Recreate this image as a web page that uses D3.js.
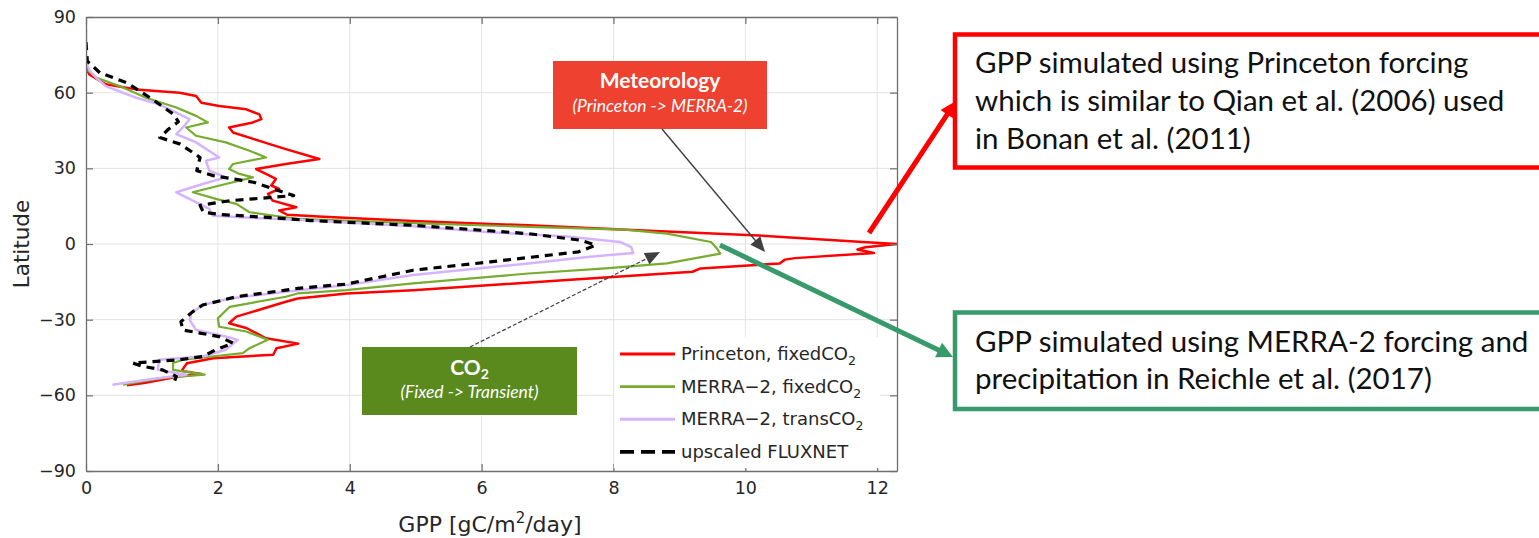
<!DOCTYPE html>
<html>
<head>
<meta charset="utf-8">
<script src="https://cdn.jsdelivr.net/npm/d3@7"></script>
<style>
  body { margin: 0; background: #fff; }
  svg { display: block; }
</style>
</head>
<body>
<div id="chart"></div>
<script>
// zonal mean GPP by latitude, [latitude, GPP gC/m2/day]
const princeton = [
  [70, 0.0], [67.2, 0.05], [63.3, 0.3], [61.3, 0.76], [60, 1.42], [58.7, 1.67], [56, 1.75],
  [54.7, 2.02], [53.4, 2.43], [51.4, 2.63], [49.5, 2.66], [48.2, 2.53], [46.2, 2.17],
  [44.2, 2.23], [40.9, 2.63], [37.6, 3.03], [33.7, 3.54], [31.7, 3.03], [29.7, 2.58],
  [27.8, 2.73], [25.8, 2.88], [23.2, 2.81], [21.8, 2.93], [19.9, 2.76], [17.2, 2.83],
  [14.6, 3.19], [13.3, 2.93], [11.6, 3.05], [10.8, 3.6], [9.1, 4.96], [7.4, 6.71],
  [5.4, 8.46], [3.4, 10.2], [0.8, 11.78], [0, 12.3], [-1.3, 11.82], [-2.2, 11.7],
  [-3.6, 11.95], [-5.6, 10.75], [-6.2, 10.6], [-7.7, 10.52], [-9.7, 9.32], [-11, 9.2],
  [-14.3, 7.29], [-18.3, 4.96], [-19.6, 3.95], [-21.6, 3.21], [-22.9, 3.03], [-28.8, 2.28],
  [-31.4, 2.17], [-33.4, 2.44], [-37.4, 2.73], [-39.5, 3.22], [-41.3, 2.89], [-43.9, 2.84],
  [-45.3, 1.93], [-47.3, 1.53], [-50.3, 1.45], [-51.5, 1.75], [-52.5, 1.4], [-55, 0.9], [-56, 0.62]
];
const merraFixed = [
  [69, 0.02], [66, 0.15], [62.6, 0.51], [58, 0.91], [54.1, 1.37], [50.8, 1.67], [48.2, 1.85],
  [46.2, 1.52], [42.9, 1.67], [40.3, 2.12], [37, 2.48], [34.3, 2.73], [31.7, 2.23],
  [29.7, 2.17], [27.8, 2.33], [26.4, 2.53], [23.8, 2.12], [20.5, 1.62], [17.9, 1.97],
  [15.9, 2.28], [12.6, 2.48], [11.3, 2.83], [10, 3.21], [8.3, 4.96], [6.8, 6.71],
  [5.7, 8.17], [4.1, 8.81], [0.8, 9.48], [-1.8, 9.57], [-3.8, 9.62], [-7.7, 8.81],
  [-9.7, 7.88], [-11.7, 6.71], [-15.6, 4.96], [-18.3, 3.95], [-19.6, 3.21], [-20.9, 3.03],
  [-24.9, 2.18], [-29.5, 2.0], [-32.8, 2.02], [-34.7, 2.43], [-38, 2.76], [-41.3, 2.48],
  [-43.3, 2.38], [-45.9, 1.47], [-47.2, 1.32], [-49.9, 1.32], [-51.8, 1.8], [-53, 1.2], [-55.8, 0.56]
];
const merraTrans = [
  [85, 0.0], [72, 0.0], [69, 0.05], [66, 0.15], [62.6, 0.3], [58, 0.76], [55.4, 1.11],
  [49.5, 1.57], [46.8, 1.49], [43.6, 1.37], [40.3, 1.67], [34.3, 2.02], [33, 1.82],
  [29.1, 1.87], [26.4, 2.12], [23.8, 1.77], [20.5, 1.37], [17.2, 1.62], [13.9, 1.87],
  [11.3, 1.92], [10.5, 2.4], [9.6, 3.21], [7, 4.96], [4.7, 6.13], [3, 7.29], [0.8, 8.1],
  [-1.2, 8.27], [-3.6, 8.3], [-5.1, 7.64], [-7.7, 6.71], [-12.3, 4.96], [-16.3, 3.95],
  [-18.9, 3.03], [-21.6, 2.18], [-24.2, 1.77], [-27.5, 1.59], [-30.5, 1.58], [-34.1, 1.67],
  [-36.7, 2.12], [-38, 2.3], [-41.9, 2.12], [-44.6, 1.77], [-45.9, 1.11], [-49.9, 1.09],
  [-51.8, 1.52], [-53.5, 1.0], [-55.8, 0.4]
];
const fluxnet = [
  [80, 0.0], [72.5, 0.02], [67.9, 0.21], [63.9, 0.62], [58, 0.97], [51.4, 1.33], [48.5, 1.4],
  [45.5, 1.25], [42.2, 1.12], [39.6, 1.43], [34.3, 1.73], [29.1, 1.68], [27.1, 1.93],
  [24.5, 2.54], [20.5, 2.99], [19.2, 3.15], [17.9, 2.54], [17.2, 2.19], [15.3, 1.73],
  [12.6, 1.78], [11.7, 2.04], [10.3, 2.9], [9.3, 3.4], [7.4, 4.96], [4.1, 6.71], [1.5, 7.5],
  [-0.5, 7.73], [-3.1, 7.47], [-7.1, 6.13], [-10.4, 4.96], [-15.9, 3.95], [-17.6, 3.21],
  [-18.3, 3.03], [-20.9, 2.28], [-24.2, 1.77], [-26.8, 1.62], [-30.8, 1.44], [-34.1, 1.47],
  [-36.7, 2.02], [-39.3, 2.23], [-41.9, 1.97], [-44.6, 1.77], [-45.9, 1.42], [-47.2, 0.71],
  [-48.5, 0.86], [-49.9, 1.16], [-52.5, 1.37], [-54.5, 1.34]
];

const xTicks = [0, 2, 4, 6, 8, 10, 12];
const yTicks = [-90, -60, -30, 0, 30, 60, 90];
const legendNames = ["Princeton, fixedCO", "MERRA\u22122, fixedCO", "MERRA\u22122, transCO", "upscaled FLUXNET"];

// plot box
const margin = {top: 17, left: 86};
const width = 811, height = 454;
const ink = "#262626";
const axisFont = "'DejaVu Sans', sans-serif";
const noteFont = "Lato, 'Open Sans', sans-serif";

const series = [
  {data: princeton,  color: "#ff0000", w: 2.5, dash: null},
  {data: merraFixed, color: "#77ac30", w: 2.2, dash: null},
  {data: merraTrans, color: "#d6b4fc", w: 2.5, dash: null},
  {data: fluxnet,    color: "#000000", w: 3.2, dash: "8,6"}
];

const svg = d3.select("#chart").append("svg")
  .attr("width", 1539)
  .attr("height", 538)
  .style("background", "#fff");

const g = svg.append("g")
  .attr("transform", "translate(" + margin.left + "," + margin.top + ")");

const x = d3.scaleLinear().domain([0, 12.3]).range([0, width]);
const y = d3.scaleLinear().domain([-90, 90]).range([height, 0]);

// grid
g.append("g").selectAll("line").data(xTicks.slice(1)).enter().append("line")
  .attr("x1", d => x(d)).attr("x2", d => x(d))
  .attr("y1", 0).attr("y2", height)
  .attr("stroke", "#e3e3e3").attr("stroke-width", 1);
g.append("g").selectAll("line").data(yTicks.slice(1, -1)).enter().append("line")
  .attr("y1", d => y(d)).attr("y2", d => y(d))
  .attr("x1", 0).attr("x2", width)
  .attr("stroke", "#e3e3e3").attr("stroke-width", 1);

// curves
g.append("clipPath").attr("id", "plotclip")
  .append("rect").attr("width", width).attr("height", height);

const line = d3.line()
  .x(d => x(d[1]))
  .y(d => y(d[0]));

g.append("g").attr("clip-path", "url(#plotclip)")
  .selectAll("path").data(series).enter().append("path")
  .attr("d", d => line(d.data))
  .attr("fill", "none")
  .attr("stroke", d => d.color)
  .attr("stroke-width", d => d.w)
  .attr("stroke-dasharray", d => d.dash)
  .attr("stroke-linejoin", "round");

// axes, ticks inward like matlab
function styleAxis(sel) {
  sel.select(".domain").attr("stroke", "#6e6e6e").attr("stroke-width", 1.3);
  sel.selectAll(".tick line").attr("stroke", "#6e6e6e").attr("stroke-width", 1.2);
  sel.selectAll(".tick text")
    .attr("fill", ink)
    .style("font-family", axisFont)
    .style("font-size", "17.5px");
}

g.append("g")
  .attr("transform", "translate(0," + height + ")")
  .call(d3.axisBottom(x).tickValues(xTicks).tickSize(-7).tickSizeOuter(0).tickPadding(11))
  .call(styleAxis);
g.append("g")
  .call(d3.axisTop(x).tickValues(xTicks).tickSize(-7).tickSizeOuter(0).tickFormat(""))
  .call(styleAxis);
g.append("g")
  .call(d3.axisLeft(y).tickValues(yTicks).tickSize(-7).tickSizeOuter(0).tickPadding(10))
  .call(styleAxis);
g.append("g")
  .attr("transform", "translate(" + width + ",0)")
  .call(d3.axisRight(y).tickValues(yTicks).tickSize(-7).tickSizeOuter(0).tickFormat(""))
  .call(styleAxis);

// axis labels
svg.append("text")
  .attr("transform", "translate(21," + (margin.top + height / 2) + ") rotate(-90)")
  .attr("text-anchor", "middle")
  .attr("dominant-baseline", "central")
  .style("font-family", axisFont).style("font-size", "21.5px")
  .attr("fill", ink)
  .text("Latitude");

const xl = svg.append("text")
  .attr("x", 490).attr("y", 532)
  .attr("text-anchor", "middle")
  .style("font-family", axisFont).style("font-size", "22px")
  .attr("fill", ink);
xl.append("tspan").text("GPP [gC/m");
xl.append("tspan").attr("dy", -9).style("font-size", "15px").text("2");
xl.append("tspan").attr("dy", 9).text("/day]");

// legend (white box, no border)
const leg = g.append("g").attr("transform", "translate(" + (614 - margin.left) + "," + (337 - margin.top) + ")");
leg.append("rect").attr("width", 266).attr("height", 131).attr("fill", "#fff");
const rows = leg.selectAll("g.row").data(series).enter().append("g")
  .attr("class", "row")
  .attr("transform", (d, i) => "translate(0," + (17 + i * 32.6) + ")");
rows.append("line")
  .attr("x1", 6).attr("x2", 61)
  .attr("stroke", d => d.color)
  .attr("stroke-width", d => d.w + 0.5)
  .attr("stroke-dasharray", d => d.dash ? "14,7" : null);
const lt = rows.append("text")
  .attr("x", 67).attr("y", 6)
  .style("font-family", axisFont).style("font-size", "18px")
  .attr("fill", ink);
lt.append("tspan").text((d, i) => legendNames[i]);
lt.filter((d, i) => i < 3).append("tspan")
  .attr("dy", 5).style("font-size", "12.5px").text("2");

// arrows
function arrow(p1, p2, o) {
  const dx = p2[0] - p1[0], dy = p2[1] - p1[1];
  const len = Math.hypot(dx, dy);
  const ux = dx / len, uy = dy / len;
  const bx = p2[0] - ux * o.head, by = p2[1] - uy * o.head;
  svg.append("line")
    .attr("x1", p1[0]).attr("y1", p1[1])
    .attr("x2", bx + ux * 1).attr("y2", by + uy * 1)
    .attr("stroke", o.color).attr("stroke-width", o.w)
    .attr("stroke-dasharray", o.dash || null);
  svg.append("path")
    .attr("d", "M" + p2[0] + "," + p2[1] +
      "L" + (bx - uy * o.half) + "," + (by + ux * o.half) +
      "L" + (bx + uy * o.half) + "," + (by - ux * o.half) + "Z")
    .attr("fill", o.color);
}

// meteorology note
svg.append("rect").attr("x", 553).attr("y", 61).attr("width", 214).attr("height", 68)
  .attr("fill", "#ee4130");
svg.append("text").attr("x", 660).attr("y", 88).attr("text-anchor", "middle")
  .style("font-family", noteFont).style("font-size", "21px").style("font-weight", "bold")
  .attr("fill", "#fff").text("Meteorology");
svg.append("text").attr("x", 660).attr("y", 112).attr("text-anchor", "middle")
  .style("font-family", noteFont).style("font-size", "17.5px").style("font-style", "italic")
  .attr("fill", "#fff").text("(Princeton -> MERRA-2)");
arrow([662, 129], [765, 252], {color: "#404040", w: 1.4, head: 15, half: 6.5});

// CO2 note
svg.append("rect").attr("x", 362).attr("y", 347).attr("width", 215).attr("height", 68)
  .attr("fill", "#5a8a1e");
const co2 = svg.append("text").attr("x", 469.5).attr("y", 375).attr("text-anchor", "middle")
  .style("font-family", noteFont).style("font-size", "21px").style("font-weight", "bold")
  .attr("fill", "#fff");
co2.append("tspan").text("CO");
co2.append("tspan").attr("dy", 4).style("font-size", "14px").text("2");
svg.append("text").attr("x", 469.5).attr("y", 398).attr("text-anchor", "middle")
  .style("font-family", noteFont).style("font-size", "17.5px").style("font-style", "italic")
  .attr("fill", "#fff").text("(Fixed -> Transient)");
arrow([470, 347], [660, 252], {color: "#404040", w: 1.2, head: 15, half: 6.5, dash: "4,2"});

// explanation boxes on the right
const boxes = [
  {y: 34.5, h: 133, color: "#ff0000", lines: ["GPP simulated using Princeton forcing",
    "which is similar to Qian et al. (2006) used", "in Bonan et al. (2011)"], base: 73},
  {y: 312.5, h: 96.5, color: "#389a6a", lines: ["GPP simulated using MERRA-2 forcing and",
    "precipitation in Reichle et al. (2017)"], base: 351.5}
];
boxes.forEach(b => {
  svg.append("rect").attr("x", 955).attr("y", b.y).attr("width", 640).attr("height", b.h)
    .attr("fill", "#fff").attr("stroke", b.color).attr("stroke-width", 4.5);
  b.lines.forEach((t, i) => {
    svg.append("text").attr("x", 975).attr("y", b.base + i * 37.8)
      .style("font-family", noteFont).style("font-size", "29.5px")
      .attr("fill", "#111").text(t);
  });
});
arrow([869, 233], [956, 101], {color: "#ff0000", w: 5, head: 16, half: 8});
arrow([720, 245], [953, 357], {color: "#389a6a", w: 5, head: 16, half: 8});
</script>
</body>
</html>
